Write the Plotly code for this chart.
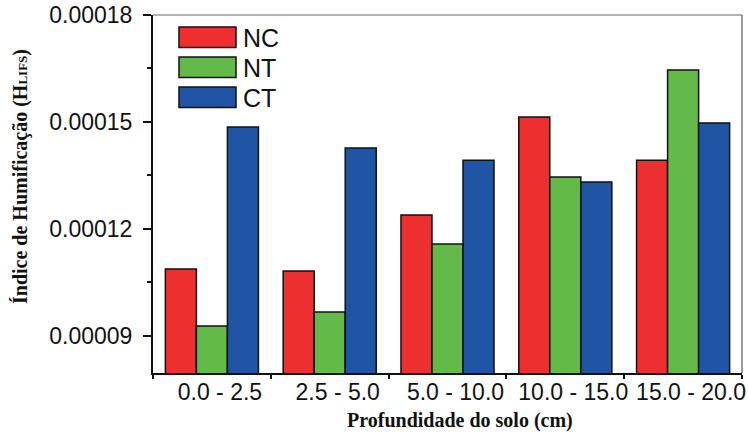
import plotly.graph_objects as go

categories = ["0.0 - 2.5", "2.5 - 5.0", "5.0 - 10.0", "10.0 - 15.0", "15.0 - 20.0"]
series_names = ["NC", "NT", "CT"]
nc_values = [0.0001088, 0.0001082, 0.0001239, 0.0001514, 0.0001393]
nt_values = [0.0000928, 0.0000967, 0.0001158, 0.0001346, 0.0001646]
ct_values = [0.0001486, 0.0001427, 0.0001393, 0.0001332, 0.0001497]
y_tick_values = [0.00009, 0.00012, 0.00015, 0.00018]
y_tick_labels = ["0.00009", "0.00012", "0.00015", "0.00018"]

colors = ["#EE2F2F", "#63BA48", "#1F55A4"]
series_values = [nc_values, nt_values, ct_values]

W, H = 748, 432
L, R, T, B = 153, 742, 15, 373

def px(x):
    return (x - L) / (R - L)

def py(y):
    return (B - y) / (B - T)

fig = go.Figure()
for name, vals, col in zip(series_names, series_values, colors):
    fig.add_trace(go.Bar(
        x=categories, y=vals, name=name,
        marker=dict(color=col, line=dict(color="#111111", width=1.5)),
        showlegend=False,
    ))

shapes = []
annotations = []
# top and right frame
shapes.append(dict(type="line", xref="paper", yref="paper", x0=0, x1=1, y0=1, y1=1,
                   line=dict(color="#9a9a9a", width=1.5)))
shapes.append(dict(type="line", xref="paper", yref="paper", x0=1, x1=1, y0=0, y1=1,
                   line=dict(color="#555555", width=1.2)))
# legend
leg_tops = [27, 57, 87]
for name, col, top in zip(series_names, colors, leg_tops):
    shapes.append(dict(type="rect", xref="paper", yref="paper",
                       x0=px(179), x1=px(236), y0=py(top + 20.5), y1=py(top),
                       fillcolor=col, line=dict(color="#111111", width=1.5)))
    annotations.append(dict(xref="paper", yref="paper", x=px(241), y=py(top + 11),
                            text=name, showarrow=False, xanchor="left", yanchor="middle",
                            font=dict(family="Liberation Sans, Arial", size=25, color="#111111")))
# axis titles
annotations.append(dict(xref="paper", yref="paper", x=px(20), y=py(177),
                        text="<b>Índice de Humificação (H<span style='font-size:13px'>LIFS</span>)</b>",
                        textangle=-90, showarrow=False, xanchor="center", yanchor="middle",
                        font=dict(family="Liberation Serif, Times New Roman", size=20, color="#111111")))
annotations.append(dict(xref="paper", yref="paper", x=px(460), y=py(420),
                        text="<b>Profundidade do solo (cm)</b>",
                        showarrow=False, xanchor="center", yanchor="middle",
                        font=dict(family="Liberation Serif, Times New Roman", size=20, color="#111111")))

fig.update_layout(
    width=W, height=H,
    margin=dict(l=L, r=W - R, t=T, b=H - B, pad=0, autoexpand=False),
    paper_bgcolor="white", plot_bgcolor="white",
    barmode="group", bargap=0.21, bargroupgap=0,
    shapes=shapes, annotations=annotations,
    font=dict(family="Liberation Sans, Arial", size=23, color="#111111"),
)
fig.update_xaxes(
    showline=True, linecolor="#111111", linewidth=2, automargin=False, tickangle=0,
    ticks="outside", tickson="boundaries", ticklen=4, tickwidth=1.5, tickcolor="#111111",
    tickfont=dict(family="Liberation Sans, Arial", size=23, color="#111111"),
    ticklabelshift=8, ticklabelstandoff=-3, showgrid=False, zeroline=False,
)
fig.update_yaxes(
    range=[0.0000796, 0.00018], automargin=False,
    showline=True, linecolor="#111111", linewidth=2,
    tickmode="array", tickvals=y_tick_values, ticktext=y_tick_labels,
    ticks="outside", ticklen=8, tickwidth=1.5, tickcolor="#111111",
    tickfont=dict(family="Liberation Sans, Arial", size=23, color="#111111"),
    ticklabelstandoff=6,
    minor=dict(tickmode="linear", tick0=0.000075, dtick=0.00003, ticks="outside",
               ticklen=4, tickwidth=1.5, tickcolor="#111111", showgrid=False),
    showgrid=False, zeroline=False,
)

fig.write_html("out.html")
